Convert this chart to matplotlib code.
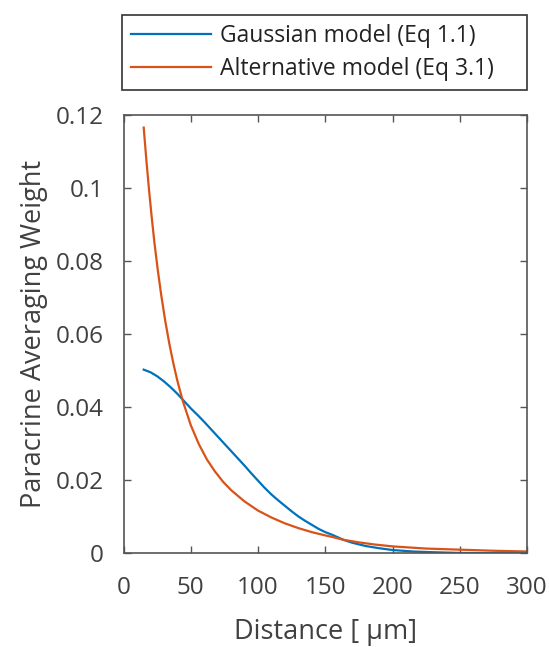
import matplotlib.pyplot as plt

# values
dist_gauss = [15, 20, 25, 30, 35, 40, 45, 50, 55, 60, 65, 70, 75, 80, 85, 90, 95, 100,
              105, 110, 115, 120, 125, 130, 135, 140, 145, 150, 155, 163.5, 170, 180,
              190, 200, 215, 230, 250, 275, 300]
w_gauss = [0.0503, 0.0496, 0.0485, 0.0471, 0.0455, 0.0437, 0.0417, 0.0397, 0.0379, 0.0360,
           0.0340, 0.0320, 0.0300, 0.0280, 0.0260, 0.0240, 0.0219, 0.0199, 0.0179, 0.0161,
           0.0145, 0.0130, 0.0115, 0.0101, 0.0089, 0.0078, 0.0067, 0.0058, 0.0051, 0.0037,
           0.0029, 0.0020, 0.0014, 0.0009, 0.0005, 0.0003, 0.0001, 0.00003, 0.00001]

dist_alt = [15, 17, 19, 21, 23, 25.5, 28, 31, 34, 37, 40, 44, 50, 56, 62, 68, 74, 80,
            90, 100, 110, 120, 130, 140, 150, 155, 163.5, 175, 187, 200, 225, 250, 275, 300]
w_alt = [0.1166, 0.1076, 0.0994, 0.0919, 0.0850, 0.0775, 0.0708, 0.0637, 0.0575, 0.0521,
         0.0473, 0.0418, 0.0351, 0.0299, 0.0257, 0.0224, 0.0196, 0.0173, 0.0142, 0.0117,
         0.0098, 0.0082, 0.0069, 0.0058, 0.0049, 0.0045, 0.0037, 0.0030, 0.0024, 0.0019,
         0.0013, 0.0010, 0.0007, 0.0005]

xticks = [0, 50, 100, 150, 200, 250, 300]
yticks = [0, 0.02, 0.04, 0.06, 0.08, 0.1, 0.12]
yticklabels = ["0", "0.02", "0.04", "0.06", "0.08", "0.1", "0.12"]

plt.rcParams['font.family'] = ['Open Sans', 'DejaVu Sans']
txt = "#404040"

fig = plt.figure(figsize=(5.49, 6.47), dpi=100)
ax = fig.add_axes([0.225, 0.1448, 0.735, 0.6772])

ax.plot(dist_gauss, w_gauss, color="#0072BD", lw=1.6, label="Gaussian model (Eq 1.1)")
ax.plot(dist_alt, w_alt, color="#D95319", lw=1.6, label="Alternative model (Eq 3.1)")

ax.set_xlim(0, 300)
ax.set_ylim(0, 0.12)
ax.set_xticks(xticks)
ax.set_yticks(yticks)
ax.set_yticklabels(yticklabels)

ax.tick_params(direction="in", length=5, width=1, colors="#555555",
               labelcolor=txt, labelsize=17.5, top=True, right=True)
ax.tick_params(axis="y", pad=14)
ax.tick_params(axis="x", pad=16)
for s in ax.spines.values():
    s.set_color("#555555")
    s.set_linewidth(1.2)

ax.set_xlabel("Distance [ µm]", fontsize=19.5, color=txt, labelpad=13)
ax.set_ylabel("Paracrine Averaging Weight", fontsize=19.5, color=txt, labelpad=6)

leg = fig.legend(loc="lower left", bbox_to_anchor=(0.222, 0.861, 0.738, 0.12),
                 mode="expand", fontsize=16.5, fancybox=False, framealpha=1,
                 handlelength=3.5, handletextpad=0.4, borderaxespad=0,
                 labelspacing=0.42, borderpad=0.38)
leg.get_frame().set_edgecolor("#333333")
leg.get_frame().set_linewidth(1.2)
for t in leg.get_texts():
    t.set_color("#222222")

fig.savefig("out.png", dpi=100)
